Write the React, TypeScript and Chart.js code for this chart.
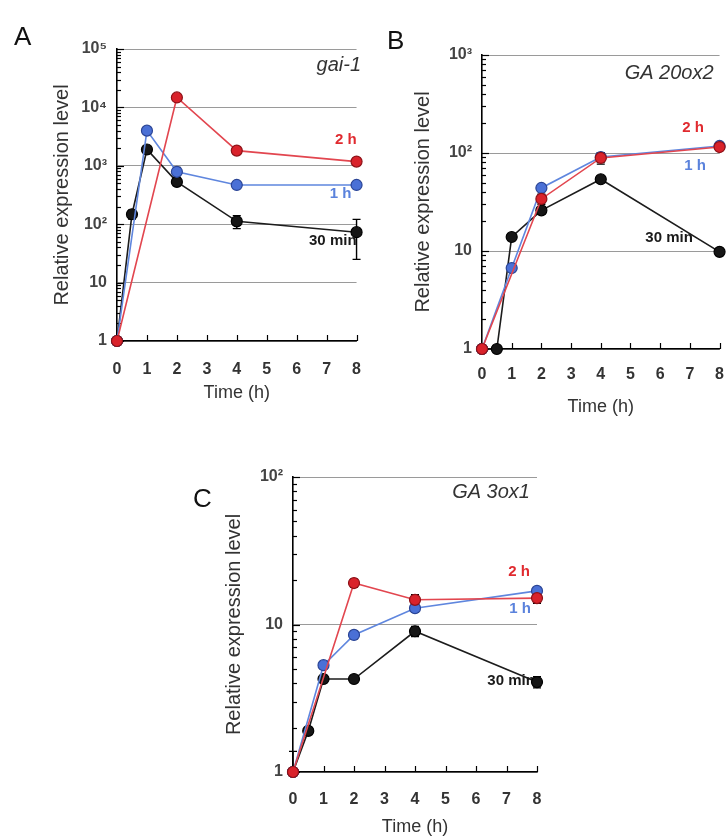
import React, { useEffect, useRef } from "react";
import { Chart, registerables } from "chart.js";

Chart.register(...registerables);

// ---------- shared axis data ----------
const xTickValues = [0, 1, 2, 3, 4, 5, 6, 7, 8];
const t30 = [0, 0.5, 1, 2, 4, 8];
const t1h = [0, 1, 2, 4, 8];
const t2h = [0, 2, 4, 8];
const seriesNames = ["30 min", "1 h", "2 h"];

// ---------- Panel A: gai-1 ----------
const gaiTicks = [1, 10, 100, 1000, 10000, 100000];
const gaiTickLabels = ["1", "10", "10²", "10³", "10⁴", "10⁵"];
const gai30 = [1, 148, 1900, 530, 112, 73];
const gai30Err = [0, 25, 200, 70, 28, 48];
const gai1h = [1, 4000, 790, 470, 470];
const gai1hErr = [0, 400, 150, 40, 40];
const gai2h = [1, 14800, 1820, 1180];
const gai2hErr = [0, 1200, 150, 100];

// ---------- Panel B: GA 20ox2 ----------
const ga20Ticks = [1, 10, 100, 1000];
const ga20TickLabels = ["1", "10", "10²", "10³"];
const ga20_30 = [1, 1, 13.9, 26, 54, 9.8];
const ga20_30Err = [0, 0.05, 1, 2, 3, 0.5];
const ga20_1h = [1, 6.7, 44, 91, 118];
const ga20_1hErr = [0, 0.5, 3, 10, 5];
const ga20_2h = [1, 34, 89, 115];
const ga20_2hErr = [0, 4, 12, 8];

// ---------- Panel C: GA 3ox1 ----------
const ga3Ticks = [1, 10, 100];
const ga3TickLabels = ["1", "10", "10²"];
const ga3_30 = [1, 1.9, 4.27, 4.27, 9.0, 4.07];
const ga3_30Err = [0.38, 0.1, 0.2, 0.15, 0.7, 0.35];
const ga3_1h = [1, 5.3, 8.5, 12.9, 16.9];
const ga3_1hErr = [0, 0.3, 0.5, 0.8, 0.8];
const ga3_2h = [1, 19.1, 14.7, 15.1];
const ga3_2hErr = [0, 1.2, 1.2, 1.2];

// annotation anchors (x in hours, y in expression units), right-aligned text
const gaiLabelAnchors = [[8.0, 51], [7.83, 330], [8.0, 2800]];
const gaiGeneAnchor = [8.15, 52000];
const ga20LabelAnchors = [[7.1, 13.6], [7.54, 74], [7.47, 180]];
const ga20GeneAnchor = [7.8, 650];
const ga3LabelAnchors = [[7.93, 4.14], [7.8, 12.7], [7.77, 22.7]];
const ga3GeneAnchor = [7.77, 78];

const COLORS = {
  black: { line: "#1c1c1c", fill: "#161616", border: "#000000", text: "#1a1a1a" },
  blue: { line: "#5f86de", fill: "#4a70d6", border: "#2b4596", text: "#5a82dc" },
  red: { line: "#e2464f", fill: "#d9222b", border: "#8e1218", text: "#e02a2f" },
};
const seriesColors = [COLORS.black, COLORS.blue, COLORS.red];

type PanelCfg = {
  key: string;
  left: number;
  top: number;
  width: number;
  height: number;
  padding: { left: number; top: number; right: number; bottom: number };
  yW: number;
  xH: number;
  xTickPad: number;
  yMax: number;
  yTicks: number[];
  yTickLabels: string[];
  series: { xs: number[]; ys: number[]; errs: number[] }[];
  labelAnchors: number[][];
  gene: string;
  geneAnchor: number[];
};

const panels: PanelCfg[] = [
  {
    key: "A",
    left: 0,
    top: 0,
    width: 380,
    height: 410,
    padding: { left: 50, top: 49, right: 23, bottom: 6 },
    yW: 67,
    xH: 63,
    xTickPad: 19,
    yMax: 100000,
    yTicks: gaiTicks,
    yTickLabels: gaiTickLabels,
    series: [
      { xs: t30, ys: gai30, errs: gai30Err },
      { xs: t1h, ys: gai1h, errs: gai1hErr },
      { xs: t2h, ys: gai2h, errs: gai2hErr },
    ],
    labelAnchors: gaiLabelAnchors,
    gene: "gai-1",
    geneAnchor: gaiGeneAnchor,
  },
  {
    key: "B",
    left: 380,
    top: 0,
    width: 360,
    height: 425,
    padding: { left: 31, top: 55, right: 16, bottom: 7 },
    yW: 71,
    xH: 69,
    xTickPad: 16,
    yMax: 1000,
    yTicks: ga20Ticks,
    yTickLabels: ga20TickLabels,
    series: [
      { xs: t30, ys: ga20_30, errs: ga20_30Err },
      { xs: t1h, ys: ga20_1h, errs: ga20_1hErr },
      { xs: t2h, ys: ga20_2h, errs: ga20_2hErr },
    ],
    labelAnchors: ga20LabelAnchors,
    gene: "GA 20ox2",
    geneAnchor: ga20GeneAnchor,
  },
  {
    key: "C",
    left: 180,
    top: 450,
    width: 400,
    height: 389,
    padding: { left: 42, top: 27, right: 43, bottom: 1 },
    yW: 71,
    xH: 66,
    xTickPad: 18,
    yMax: 100,
    yTicks: ga3Ticks,
    yTickLabels: ga3TickLabels,
    series: [
      { xs: t30, ys: ga3_30, errs: ga3_30Err },
      { xs: t1h, ys: ga3_1h, errs: ga3_1hErr },
      { xs: t2h, ys: ga3_2h, errs: ga3_2hErr },
    ],
    labelAnchors: ga3LabelAnchors,
    gene: "GA 3ox1",
    geneAnchor: ga3GeneAnchor,
  },
];

function Panel({ cfg }: { cfg: PanelCfg }) {
  const ref = useRef<HTMLCanvasElement>(null);
  useEffect(() => {
    const canvas = ref.current;
    if (!canvas) return;

    const decor = {
      id: "decor_" + cfg.key,
      beforeDatasetsDraw(chart: any) {
        const { ctx, chartArea } = chart;
        const x = chart.scales.x;
        const y = chart.scales.y;
        ctx.save();
        // inward ticks on y axis (major + minor)
        ctx.strokeStyle = "#000";
        ctx.lineWidth = 1.2;
        for (let d = 1; d < cfg.yMax; d *= 10) {
          for (let m = 1; m < 10; m++) {
            const py = Math.round(y.getPixelForValue(d * m)) + 0.5;
            const len = m === 1 ? 7 : 4;
            ctx.beginPath();
            ctx.moveTo(chartArea.left, py);
            ctx.lineTo(chartArea.left + len, py);
            ctx.stroke();
          }
        }
        {
          const py = Math.round(y.getPixelForValue(cfg.yMax)) + 0.5;
          ctx.beginPath();
          ctx.moveTo(chartArea.left, py);
          ctx.lineTo(chartArea.left + 7, py);
          ctx.stroke();
        }
        // inward ticks on x axis
        xTickValues.forEach((v) => {
          const px = Math.round(x.getPixelForValue(v)) + 0.5;
          ctx.beginPath();
          ctx.moveTo(px, chartArea.bottom);
          ctx.lineTo(px, chartArea.bottom - 6);
          ctx.stroke();
        });
        // series labels and gene name
        ctx.textAlign = "right";
        ctx.textBaseline = "middle";
        ctx.font = "bold 15px 'Liberation Sans', Arial, sans-serif";
        cfg.labelAnchors.forEach((a, i) => {
          ctx.fillStyle = seriesColors[i].text;
          ctx.fillText(seriesNames[i], x.getPixelForValue(a[0]), y.getPixelForValue(a[1]));
        });
        ctx.font = "italic 20px 'Liberation Sans', Arial, sans-serif";
        ctx.fillStyle = "#333";
        ctx.fillText(cfg.gene, x.getPixelForValue(cfg.geneAnchor[0]), y.getPixelForValue(cfg.geneAnchor[1]));
        // error bars
        ctx.strokeStyle = "#000";
        ctx.lineWidth = 1.4;
        chart.data.datasets.forEach((ds: any) => {
          ds.errorBars.forEach((e: number, i: number) => {
            if (!e) return;
            const pt = ds.data[i];
            const px = x.getPixelForValue(pt.x);
            const hi = y.getPixelForValue(pt.y + e);
            const lo = Math.min(y.getPixelForValue(Math.max(pt.y - e, 1e-6)), chartArea.bottom);
            ctx.beginPath();
            ctx.moveTo(px, hi);
            ctx.lineTo(px, lo);
            ctx.moveTo(px - 4, hi);
            ctx.lineTo(px + 4, hi);
            if (lo < chartArea.bottom) {
              ctx.moveTo(px - 4, lo);
              ctx.lineTo(px + 4, lo);
            }
            ctx.stroke();
          });
        });
        ctx.restore();
      },
    };

    const datasets = cfg.series.map((s, i) => ({
      label: seriesNames[i],
      data: s.xs.map((xv, j) => ({ x: xv, y: s.ys[j] })),
      errorBars: s.errs,
      order: 2 - i,
      borderColor: seriesColors[i].line,
      backgroundColor: seriesColors[i].fill,
      pointBackgroundColor: seriesColors[i].fill,
      pointBorderColor: seriesColors[i].border,
      pointBorderWidth: 1.2,
      pointRadius: 5.5,
      borderWidth: 1.6,
      tension: 0,
      clip: false,
    }));

    const chart = new Chart(canvas, {
      type: "line",
      data: { datasets: datasets as any },
      options: {
        animation: false,
        responsive: false,
        devicePixelRatio: 1,
        layout: { padding: cfg.padding },
        plugins: { legend: { display: false }, tooltip: { enabled: false } },
        scales: {
          x: {
            type: "linear",
            min: 0,
            max: 8,
            afterBuildTicks: (s: any) => {
              s.ticks = xTickValues.map((v) => ({ value: v }));
            },
            afterFit: (s: any) => {
              s.height = cfg.xH;
            },
            grid: { display: false, drawTicks: false },
            border: { display: true, color: "#000", width: 1.6 },
            ticks: {
              autoSkip: false,
              maxRotation: 0,
              padding: cfg.xTickPad,
              color: "#333",
              font: { family: "'Liberation Sans', Arial, sans-serif", size: 16, weight: "bold" },
            },
            title: {
              display: true,
              text: "Time (h)",
              padding: 0,
              color: "#333",
              font: { family: "'Liberation Sans', Arial, sans-serif", size: 18 },
            },
          },
          y: {
            type: "logarithmic",
            min: 1,
            max: cfg.yMax,
            afterBuildTicks: (s: any) => {
              s.ticks = cfg.yTicks.map((v) => ({ value: v }));
            },
            afterFit: (s: any) => {
              s.width = cfg.yW;
            },
            grid: { display: true, drawTicks: false, color: "#9a9a9a", lineWidth: 1 },
            border: { display: true, color: "#000", width: 1.6 },
            ticks: {
              padding: 10,
              color: "#444",
              font: { family: "'Liberation Sans', Arial, sans-serif", size: 16, weight: "bold" },
              callback: (v: any) => {
                const idx = cfg.yTicks.indexOf(Number(v));
                return idx >= 0 ? cfg.yTickLabels[idx] : "";
              },
            },
            title: {
              display: true,
              text: "Relative expression level",
              padding: 0,
              color: "#333",
              font: { family: "'Liberation Sans', Arial, sans-serif", size: 20 },
            },
          },
        },
      } as any,
      plugins: [decor],
    });
    return () => chart.destroy();
  }, [cfg]);

  return (
    <div style={{ position: "absolute", left: cfg.left, top: cfg.top, width: cfg.width, height: cfg.height }}>
      <canvas ref={ref} width={cfg.width} height={cfg.height} style={{ width: cfg.width, height: cfg.height, display: "block" }} />
    </div>
  );
}

const letterStyle: React.CSSProperties = {
  position: "absolute",
  fontFamily: "'Liberation Sans', Arial, sans-serif",
  fontSize: 26,
  color: "#111",
  lineHeight: "26px",
};

export default function App() {
  return (
    <div style={{ position: "absolute", left: 0, top: 0, width: 728, height: 839, overflow: "hidden", background: "#fff" }}>
      {panels.map((p) => (
        <Panel key={p.key} cfg={p} />
      ))}
      <div style={{ ...letterStyle, left: 14, top: 23 }}>A</div>
      <div style={{ ...letterStyle, left: 387, top: 27 }}>B</div>
      <div style={{ ...letterStyle, left: 193, top: 485 }}>C</div>
    </div>
  );
}
